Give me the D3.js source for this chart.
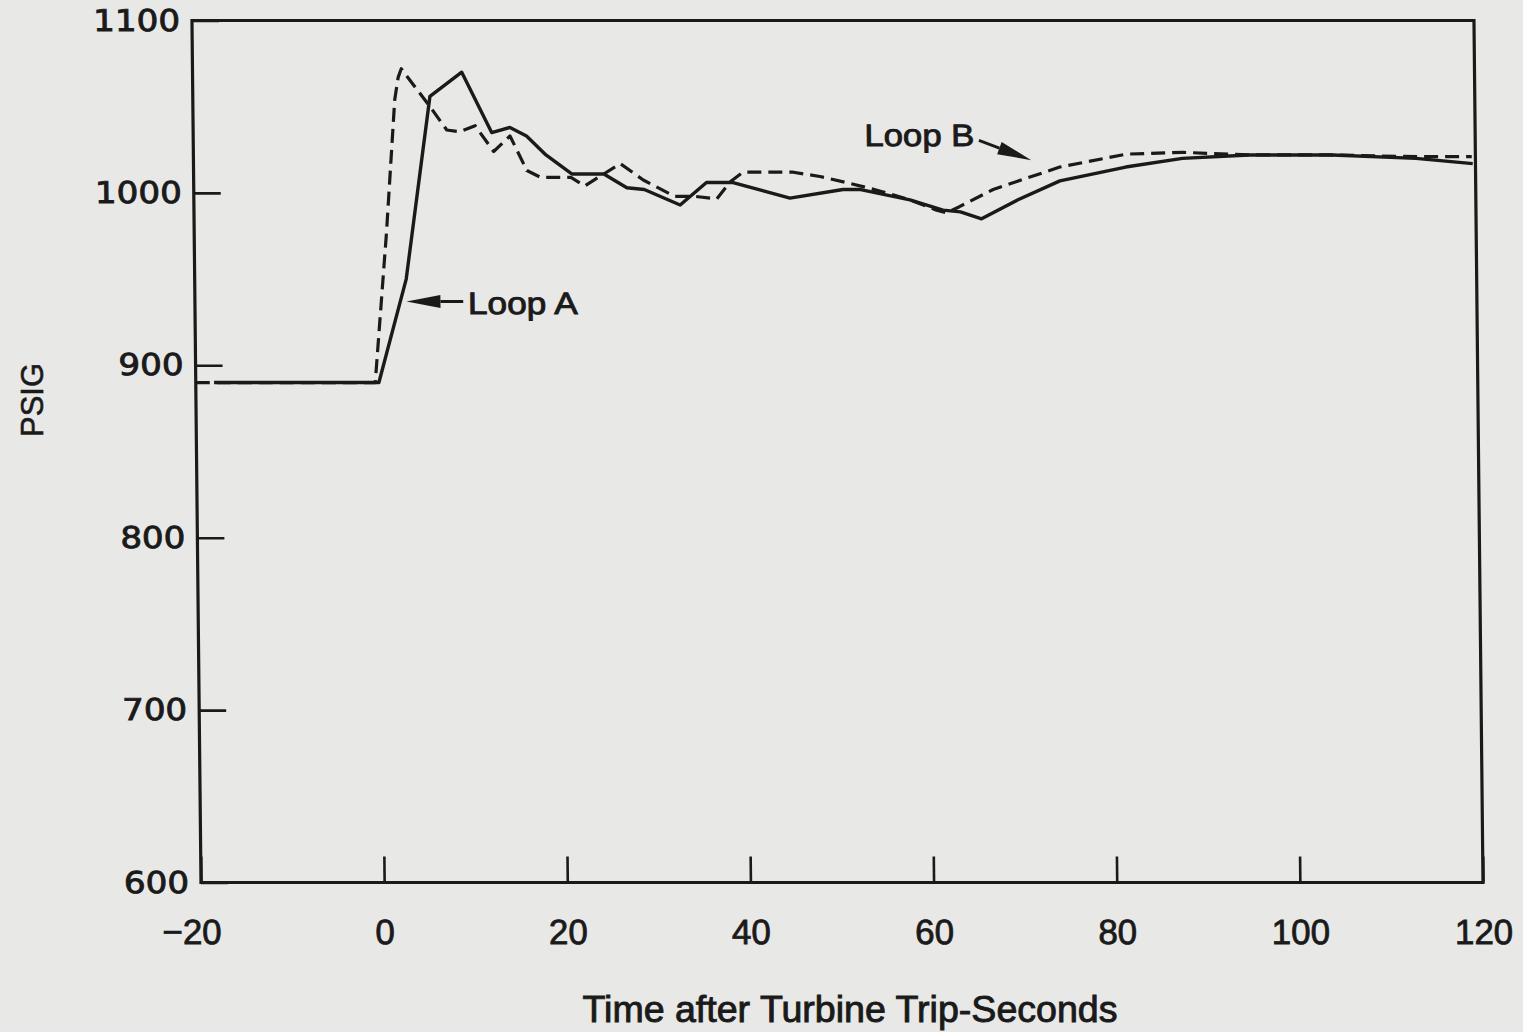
<!DOCTYPE html>
<html>
<head>
<meta charset="utf-8">
<script src="https://cdn.jsdelivr.net/npm/d3@7"></script>
<style>
  html, body { margin: 0; padding: 0; background: #e8e8e6; }
  svg { display: block; }
</style>
</head>
<body>
<svg id="chart" width="1523" height="1032"></svg>
<script>
// axis ticks
const timeTicks = [-20, 0, 20, 40, 60, 80, 100, 120];
const psigTicks = [600, 700, 800, 900, 1000, 1100];

// Loop A (solid) : [seconds, psig]
const loopA = [
  [-18, 890], [0, 890], [3.1, 950], [5.9, 1056], [9.4, 1070], [12.6, 1035],
  [14.6, 1038], [16.4, 1033], [18.5, 1022], [21.3, 1011], [24.8, 1011],
  [27.3, 1003], [29.2, 1002], [33.1, 993], [36.0, 1006], [38.9, 1006],
  [45.1, 997], [50.9, 1002], [52.7, 1002], [58.2, 996], [61.8, 990],
  [63.7, 989], [66.0, 985], [70.0, 996], [74.6, 1007], [81.8, 1015],
  [88.0, 1020], [95.3, 1022], [104.4, 1022], [113.5, 1020], [119.7, 1017]
];

// Loop B (dashed)
const loopB = [
  [-20, 890], [-0.4, 890], [1.0, 977], [2.05, 1054], [2.45, 1067], [2.8, 1072],
  [5.9, 1050], [7.7, 1036.5], [9.1, 1035.5], [10.8, 1039], [12.8, 1024],
  [14.6, 1033], [16.4, 1013], [17.9, 1009], [21.2, 1009], [22.7, 1004],
  [26.6, 1017], [29.1, 1007.5], [32.5, 998], [34.7, 998], [37.1, 996.5],
  [38.6, 1006.5], [40.0, 1012], [45.5, 1012], [48.4, 1009.5], [51.7, 1005.5],
  [55.0, 1001], [58.2, 996], [61.1, 990], [62.2, 988.5], [63.6, 992],
  [67.3, 1002], [74.6, 1015], [81.9, 1022.5], [88.1, 1023.5], [95.3, 1022],
  [104, 1022], [113.9, 1021], [119.6, 1021]
];

// labels with arrows, in data units: text start, arrow tail, arrow tip
const loopLabels = [
  {name: 'Loop A', at: [9.8, 930], from: [9.3, 937], to: [3.1, 937]},
  {name: 'Loop B', at: [53.3, 1027], from: [65.8, 1030.5], to: [71.5, 1019]}
];

const W = 1523, H = 1032;
const ink = '#1a1a1a';
const sans = '"Liberation Sans", Arial, sans-serif';

const x = d3.scaleLinear().domain([-20, 120]).range([201, 1483]);
const y = d3.scaleLinear().domain([600, 1100]).range([882.5, 20.5]);

const svg = d3.select('#chart');
svg.append('rect').attr('width', W).attr('height', H).attr('fill', '#e8e8e6');

// the scanned frame leans a little, so shear the whole plot
const base = y(600);
const g = svg.append('g')
    .attr('transform', `translate(0,${base}) skewX(0.6) translate(0,${-base})`);

// y axis, ticks pointing inwards
const yAxis = d3.axisLeft(y).tickValues(psigTicks).tickFormat(d3.format('d'))
    .tickSizeInner(-27).tickSizeOuter(0).tickPadding(12);
const gy = g.append('g').attr('transform', `translate(${x(-20)},0)`).call(yAxis);
gy.select('.domain').remove();
gy.selectAll('.tick line').attr('stroke', ink).attr('stroke-width', 2.6);
gy.selectAll('.tick text')
    .attr('fill', ink)
    .attr('stroke', ink).attr('stroke-width', 0.9)
    .style('font-family', '"DejaVu Sans", sans-serif')
    .style('font-size', '30px')
    .attr('textLength', d => String(d).length * 21.7)
    .attr('lengthAdjust', 'spacingAndGlyphs');

// x axis
const xAxis = d3.axisBottom(x).tickValues(timeTicks)
    .tickSizeInner(-26).tickSizeOuter(0).tickPadding(37);
const gx = g.append('g').attr('transform', `translate(0,${y(600)})`).call(xAxis);
gx.select('.domain').remove();
gx.selectAll('.tick line').attr('stroke', ink).attr('stroke-width', 2.6);
gx.selectAll('.tick text')
    .attr('fill', ink)
    .attr('stroke', ink).attr('stroke-width', 0.8)
    .attr('dx', d => d < 0 ? -10 : 0)
    .style('font-family', sans)
    .style('font-size', '35px');

// frame
g.append('rect')
    .attr('x', x(-20)).attr('y', y(1100))
    .attr('width', x(120) - x(-20)).attr('height', y(600) - y(1100))
    .attr('fill', 'none').attr('stroke', ink).attr('stroke-width', 3.2);

const line = d3.line().x(d => x(d[0])).y(d => y(d[1]));

g.append('path').datum(loopB)
    .attr('d', line)
    .attr('fill', 'none').attr('stroke', ink).attr('stroke-width', 3.2)
    .attr('stroke-dasharray', '14,7')
    .attr('stroke-linejoin', 'round');

g.append('path').datum(loopA)
    .attr('d', line)
    .attr('fill', 'none').attr('stroke', ink).attr('stroke-width', 3.4)
    .attr('stroke-linejoin', 'round');

// annotations
function arrow(sel, p0, p1) {
  const x0 = x(p0[0]), y0 = y(p0[1]), x1 = x(p1[0]), y1 = y(p1[1]);
  const ang = Math.atan2(y1 - y0, x1 - x0);
  const len = 34, half = 6.5;
  const bx = x1 - len * Math.cos(ang), by = y1 - len * Math.sin(ang);
  sel.append('line')
      .attr('x1', x0).attr('y1', y0).attr('x2', bx).attr('y2', by)
      .attr('stroke', ink).attr('stroke-width', 2.8);
  sel.append('path')
      .attr('d', `M${x1},${y1}L${bx - half * Math.sin(ang)},${by + half * Math.cos(ang)}` +
                 `L${bx + half * Math.sin(ang)},${by - half * Math.cos(ang)}Z`)
      .attr('fill', ink);
}

loopLabels.forEach(l => {
  g.append('text')
      .attr('x', x(l.at[0])).attr('y', y(l.at[1]))
      .attr('fill', ink)
      .attr('stroke', ink).attr('stroke-width', 0.9)
      .style('font-family', sans)
      .style('font-size', '31px')
      .attr('textLength', 110)
      .attr('lengthAdjust', 'spacingAndGlyphs')
      .text(l.name);
  arrow(g, l.from, l.to);
});

// axis titles
svg.append('text')
    .attr('x', 850).attr('y', 1022)
    .attr('text-anchor', 'middle')
    .attr('fill', ink)
    .attr('stroke', ink).attr('stroke-width', 0.9)
    .style('font-family', sans)
    .style('font-size', '36px')
    .attr('textLength', 535)
    .attr('lengthAdjust', 'spacingAndGlyphs')
    .text('Time after Turbine Trip-Seconds');

svg.append('text')
    .attr('transform', 'translate(43,400) rotate(-90)')
    .attr('text-anchor', 'middle')
    .attr('fill', ink)
    .attr('stroke', ink).attr('stroke-width', 0.6)
    .style('font-family', sans)
    .style('font-size', '31px')
    .text('PSIG');
</script>
</body>
</html>
